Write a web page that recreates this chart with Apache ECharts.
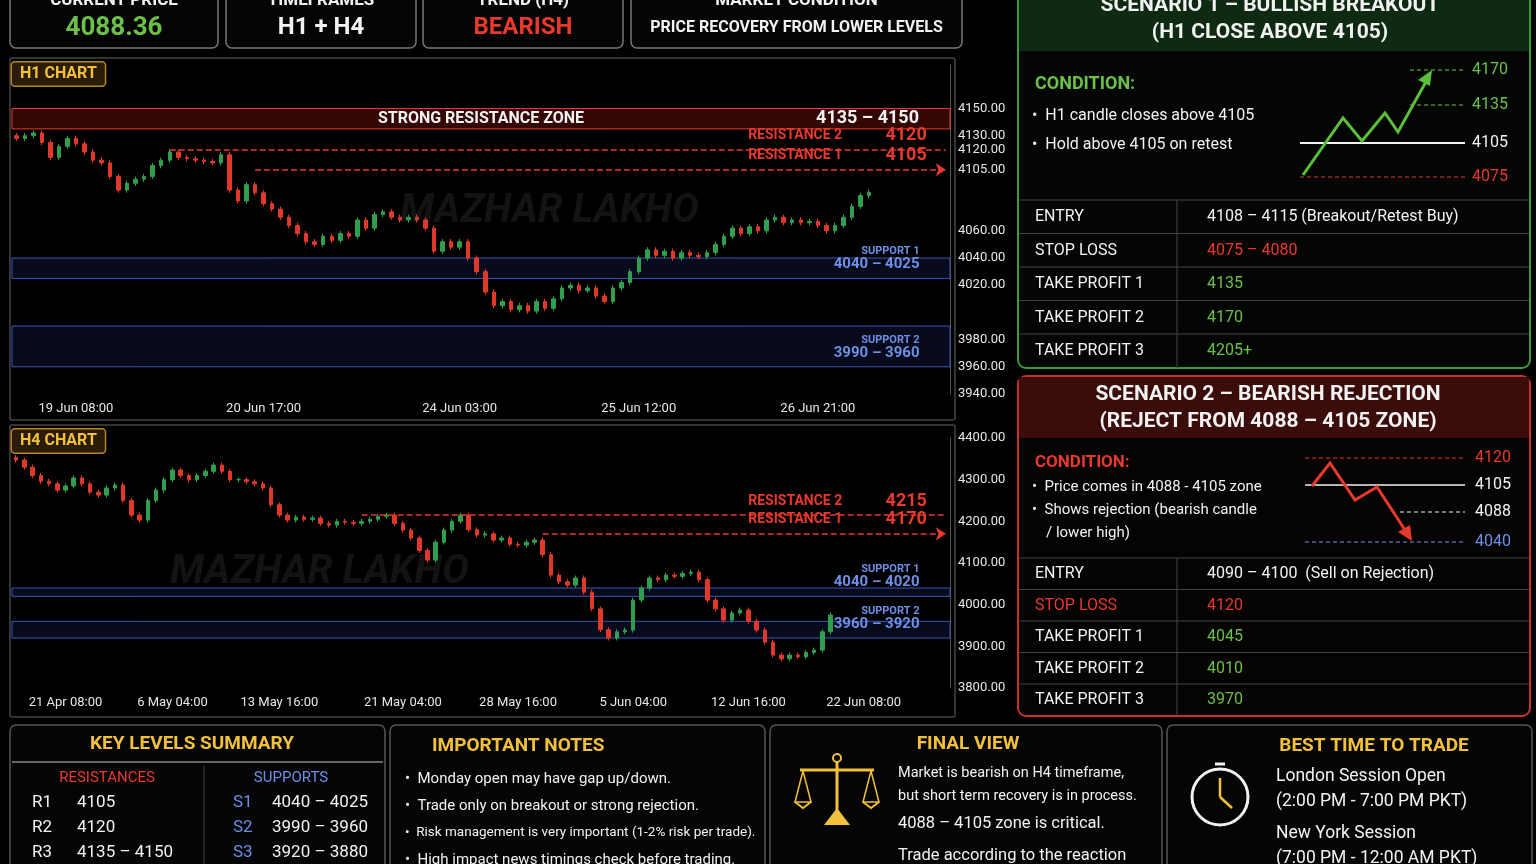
<!DOCTYPE html>
<html><head><meta charset="utf-8">
<script src="https://cdn.jsdelivr.net/npm/echarts@6/dist/echarts.min.js"></script>
<style>html,body{margin:0;background:#000}#c{width:1536px;height:864px}</style>
</head><body><div id="c"></div>
<script>
const h1Closes=[4128,4130,4132,4125,4114,4122,4128,4124,4118,4112,4110,4100,4090,4095,4098,4100,4108,4112,4118,4114,4113,4112,4111,4110,4116,4090,4082,4094,4088,4080,4076,4070,4064,4058,4052,4050,4056,4053,4058,4056,4068,4062,4072,4074,4070,4068,4070,4068,4062,4045,4052,4048,4052,4040,4030,4015,4005,4008,4002,4005,4001,4008,4003,4010,4018,4020,4016,4018,4012,4008,4018,4022,4030,4040,4046,4042,4045,4040,4044,4042,4041,4044,4050,4056,4062,4058,4063,4060,4068,4070,4066,4068,4066,4067,4064,4060,4064,4070,4078,4086,4088.36];
const h4Closes=[4347,4330,4310,4296,4290,4275,4285,4304,4290,4270,4263,4280,4287,4250,4215,4203,4250,4275,4300,4323,4310,4300,4310,4320,4335,4320,4300,4300,4295,4290,4280,4240,4215,4203,4210,4205,4208,4195,4191,4200,4198,4195,4200,4205,4212,4215,4195,4179,4160,4130,4107,4150,4179,4200,4215,4180,4167,4170,4155,4160,4145,4143,4150,4155,4120,4071,4055,4047,4064,4030,3990,3940,3920,3935,3939,4011,4040,4064,4060,4071,4068,4075,4078,4060,4011,3990,3963,3980,3987,3960,3939,3910,3879,3870,3879,3875,3885,3891,3935,3975];
const h1TickLabels={7:'19 Jun 08:00',29:'20 Jun 17:00',52:'24 Jun 03:00',73:'25 Jun 12:00',94:'26 Jun 21:00'};
const h4TickLabels={6:'21 Apr 08:00',19:'6 May 04:00',32:'13 May 16:00',47:'21 May 04:00',61:'28 May 16:00',75:'5 Jun 04:00',89:'12 Jun 16:00',103:'22 Jun 08:00'};
const h1AxisValues=[4150,4130,4120,4105,4060,4040,4020,3980,3960,3940];
const currentPrice=4088.36;
const h1Levels={r1:4105,r2:4120,rz:[4135,4150],s1:[4040,4025],s2:[3990,3960]};
const h4Levels={r1:4170,r2:4215,s1:[4040,4020],s2:[3960,3920]};

const F="'Roboto',sans-serif";
const UP='#2f9e4f',DN='#e0392b';
function ohlc(cl,w){return cl.map((c,i)=>{const o=i?cl[i-1]:c+w;return [o,c,Math.min(o,c)-w,Math.max(o,c)+w];});}
function cats(n,map){return Array.from({length:n},(_,i)=>map[i]||('c'+i));}
const chart=echarts.init(document.getElementById('c'));
const g=[];
function R(x,y,w,h,stroke,fill,r,lw){g.push({type:'rect',shape:{x,y,width:w,height:h,r:r==null?6:r},style:{stroke:stroke||'none',fill:fill||'none',lineWidth:lw||1.5},z:1});}
function T(x,y,s,size,color,align,weight){g.push({type:'text',x,y,style:{text:s,font:(weight||'bold')+' '+size+'px '+F,fill:color,align:align||'left',verticalAlign:'middle'},z:5});}
function L(pts,color,dash,w){g.push({type:'polyline',shape:{points:pts},style:{stroke:color,lineWidth:w||1.5,lineDash:dash||null},z:4});}
const GOLD='#f2c03a',GR='#6cc04a',RD='#e8392c',BL='#6d8fe8',W='#f2f2f2';
[[10,-6,208,54,'CURRENT PRICE','4088.36',GR,26],[226,-6,190,54,'TIMEFRAMES','H1 + H4',W,24],[423,-6,200,54,'TREND (H4)','BEARISH',RD,24],[631,-6,331,54,'MARKET CONDITION','PRICE RECOVERY FROM LOWER LEVELS',W,16]].forEach(b=>{
 R(b[0],b[1],b[2],b[3],'#777','#050505');T(b[0]+b[2]/2,1,b[4],17,W,'center');T(b[0]+b[2]/2,28,b[5],b[7],b[6],'center');});
R(10,58,945,362,'#444','none',2);R(10,425,945,292,'#444','none',2);
T(400,212,'MAZHAR LAKHO',40,'rgba(120,120,120,0.16)','left','italic bold');
T(170,573,'MAZHAR LAKHO',40,'rgba(120,120,120,0.16)','left','italic bold');
R(1018,-8,512,376,'#3a9a3a','#040604',8,2);
g.push({type:'rect',shape:{x:1019,y:-7,width:510,height:58},style:{fill:'#0e2a12'},z:2});
T(1270,6,'SCENARIO 1 – BULLISH BREAKOUT',21,W,'center');T(1270,33,'(H1 CLOSE ABOVE 4105)',21,W,'center');
T(1035,84,'CONDITION:',18,GR);T(1032,116,'•  H1 candle closes above 4105',16,W,'left','normal');T(1032,145,'•  Hold above 4105 on retest',16,W,'left','normal');
L([[1410,70],[1465,70]],GR,[4,3],1);L([[1410,105],[1465,105]],GR,[4,3],1);L([[1300,143],[1465,143]],W,null,2);L([[1300,177],[1465,177]],RD,[4,3],1);
T(1472,70,'4170',16,GR,'left','normal');T(1472,105,'4135',16,GR,'left','normal');T(1472,143,'4105',16,W,'left','normal');T(1472,177,'4075',16,RD,'left','normal');
L([[1303,175],[1343,118],[1362,141],[1385,113],[1398,132],[1428,78]],'#5cbf3c',null,3);
g.push({type:'polygon',shape:{points:[[1432,70],[1418,80],[1430,86]]},style:{fill:'#5cbf3c'},z:4});
const s1rows=[['ENTRY','4108 – 4115 (Breakout/Retest Buy)',W],['STOP LOSS','4075 – 4080',RD],['TAKE PROFIT 1','4135',GR],['TAKE PROFIT 2','4170',GR],['TAKE PROFIT 3','4205+',GR]];
s1rows.forEach((r,i)=>{const y=200+i*33.5;L([[1019,y],[1529,y]],'#444',null,1);T(1035,y+17,r[0],16,W,'left','normal');T(1207,y+17,r[1],16,r[2],'left','normal');});
L([[1177,200],[1177,368]],'#444',null,1);
R(1018,376,512,340,'#c8302a','#060303',8,2);
g.push({type:'rect',shape:{x:1019,y:377,width:510,height:61},style:{fill:'#3a0c0a'},z:2});
T(1268,395,'SCENARIO 2 – BEARISH REJECTION',21,W,'center');T(1268,422,'(REJECT FROM 4088 – 4105 ZONE)',21,W,'center');
T(1035,463,'CONDITION:',17,RD);T(1032,487,'•  Price comes in 4088 - 4105 zone',15,W,'left','normal');T(1032,510,'•  Shows rejection (bearish candle',15,W,'left','normal');T(1046,533,'/ lower high)',15,W,'left','normal');
L([[1305,458],[1465,458]],RD,[4,3],1);L([[1305,485],[1465,485]],W,null,1.5);L([[1400,512],[1465,512]],W,[4,3],1);L([[1305,542],[1465,542]],BL,[4,3],1);
T(1475,458,'4120',16,RD,'left','normal');T(1475,485,'4105',16,W,'left','normal');T(1475,512,'4088',16,W,'left','normal');T(1475,542,'4040',16,BL,'left','normal');
L([[1312,486],[1330,463],[1355,500],[1377,487],[1405,530]],RD,null,3);
g.push({type:'polygon',shape:{points:[[1412,541],[1398,532],[1410,525]]},style:{fill:RD},z:4});
const s2rows=[['ENTRY','4090 – 4100  (Sell on Rejection)',W,W],['STOP LOSS','4120',RD,RD],['TAKE PROFIT 1','4045',W,GR],['TAKE PROFIT 2','4010',W,GR],['TAKE PROFIT 3','3970',W,GR]];
s2rows.forEach((r,i)=>{const y=558+i*31.5;L([[1019,y],[1529,y]],'#444',null,1);T(1035,y+16,r[0],16,r[2],'left','normal');T(1207,y+16,r[1],16,r[3],'left','normal');});
L([[1177,558],[1177,715]],'#444',null,1);
R(10,725,375,150,'#555','#050505');R(390,725,375,150,'#555','#050505');R(770,725,392,150,'#555','#050505');R(1167,725,365,150,'#555','#050505');
T(192,744,'KEY LEVELS SUMMARY',19,GOLD,'center');L([[12,762],[383,762]],'#666',null,2);L([[204,766],[204,864]],'#444',null,1);
T(107,778,'RESISTANCES',15,RD,'center','normal');T(291,778,'SUPPORTS',15,BL,'center','normal');
[['R1','4105','S1','4040 – 4025'],['R2','4120','S2','3990 – 3960'],['R3','4135 – 4150','S3','3920 – 3880']].forEach((r,i)=>{const y=803+i*25;T(32,y,r[0],17,W,'left','normal');T(77,y,r[1],17,W,'left','normal');T(233,y,r[2],17,BL,'left','normal');T(272,y,r[3],17,W,'left','normal');});
T(432,746,'IMPORTANT NOTES',19,GOLD);
['Monday open may have gap up/down.','Trade only on breakout or strong rejection.','Risk management is very important (1-2% risk per trade).','High impact news timings check before trading.'].forEach((s,i)=>T(405,779+i*27,'•  '+s,i==2?13.5:15,W,'left','normal'));
T(968,744,'FINAL VIEW',19,GOLD,'center');
['Market is bearish on H4 timeframe,','but short term recovery is in process.'].forEach((s,i)=>T(898,773+i*23,s,14.5,W,'left','normal'));
T(898,824,'4088 – 4105 zone is critical.',16.5,W,'left','normal');T(898,856,'Trade according to the reaction',16.5,W,'left','normal');
L([[837,762],[837,820]],GOLD,null,3);L([[800,770],[874,770]],GOLD,null,3);
L([[803,771],[795,802],[811,802],[803,771]],GOLD,null,1.5);L([[871,771],[863,802],[879,802],[871,771]],GOLD,null,1.5);
L([[795,802],[803,808],[811,802]],GOLD,null,2);L([[863,802],[871,808],[879,802]],GOLD,null,2);
g.push({type:'polygon',shape:{points:[[824,825],[850,825],[837,808]]},style:{fill:GOLD},z:4});
g.push({type:'circle',shape:{cx:837,cy:758,r:4},style:{stroke:GOLD,fill:'none',lineWidth:2},z:4});
T(1374,746,'BEST TIME TO TRADE',19,GOLD,'center');
g.push({type:'circle',shape:{cx:1220,cy:797,r:28},style:{stroke:W,fill:'none',lineWidth:3},z:4});
L([[1220,797],[1220,778]],GOLD,null,2.5);L([[1220,797],[1232,808]],GOLD,null,2.5);L([[1215,764],[1225,764]],W,null,3);
T(1276,777,'London Session Open',17.5,W,'left','normal');T(1276,802,'(2:00 PM - 7:00 PM PKT)',17.5,W,'left','normal');T(1276,834,'New York Session',17.5,W,'left','normal');T(1276,859,'(7:00 PM - 12:00 AM PKT)',17.5,W,'left','normal');
function tag(x,y,s){g.push({type:'text',x,y,style:{text:s,font:'bold 16px '+F,fill:GOLD,backgroundColor:'#2a1c06',borderColor:'#b8862a',borderWidth:1.5,borderRadius:3,padding:[4,8,3,8],verticalAlign:'middle'},z:6});}
tag(12,74,'H1 CHART');tag(12,441,'H4 CHART');

const tickOpt={show:true,interval:0,color:'#e6e6e6',fontSize:13,fontFamily:F,formatter:v=>v.charAt(0)==='c'?'':v,hideOverlap:false};
const bandLbl=(a,b,name)=>({show:true,position:'insideBottomRight',formatter:'{s|'+name+'}\n{v|'+a+' – '+b+'}',rich:{s:{color:BL,fontSize:11,fontFamily:F,fontWeight:'bold',align:'right'},v:{color:BL,fontSize:15,fontFamily:F,fontWeight:'bold',align:'right'}},padding:[0,26,2,0]});
function seg(v,name,startIdx,n,arrow){return [{coord:[startIdx,v],symbol:'none'},{coord:[n-1,v],symbol:arrow?'arrow':'none',symbolSize:10,lineStyle:{color:RD,width:1.5},label:{show:true,position:'insideEndTop',formatter:'{n|'+name+'}             {v|'+v+'}',rich:{n:{color:RD,fontSize:14,fontFamily:F,fontWeight:'bold'},v:{color:RD,fontSize:18,fontFamily:F,fontWeight:'bold'}},padding:[0,14,0,0]}}];}
const N1=110,N4=114;
const priceTag={yAxis:currentPrice,lineStyle:{opacity:0},symbol:'none',label:{show:true,position:'end',distance:2,formatter:'4088.36',backgroundColor:'#2f9e4f',color:'#fff',padding:[3,4],fontSize:13,fontFamily:F,fontWeight:'bold'}};
const bandStyle={color:'rgba(40,60,150,0.18)',borderColor:'#3b56b8',borderWidth:1};
const opt={backgroundColor:'#000',animation:false,graphic:g,
grid:[{left:12,right:586,top:65,bottom:470},{left:12,right:586,top:438,bottom:176}],
xAxis:[{type:'category',gridIndex:0,data:cats(N1,h1TickLabels),axisLine:{show:false},axisTick:{show:false},axisLabel:tickOpt},
{type:'category',gridIndex:1,data:cats(N4,h4TickLabels),axisLine:{show:false},axisTick:{show:false},axisLabel:tickOpt}],
yAxis:[{type:'value',gridIndex:0,position:'right',min:3940,max:4182,interval:5,splitLine:{show:false},axisLine:{show:true,lineStyle:{color:'#555'}},axisLabel:{color:'#e6e6e6',fontSize:13,fontFamily:F,formatter:v=>h1AxisValues.includes(v)?v.toFixed(2):''}},
{type:'value',gridIndex:1,position:'right',min:3800,max:4400,interval:100,splitLine:{show:false},axisLine:{show:true,lineStyle:{color:'#555'}},axisLabel:{color:'#e6e6e6',fontSize:13,fontFamily:F,formatter:v=>v.toFixed(2)}}],
series:[{type:'candlestick',xAxisIndex:0,yAxisIndex:0,data:ohlc(h1Closes,2),barWidth:4,itemStyle:{color:UP,color0:DN,borderColor:UP,borderColor0:DN},
 markArea:{silent:true,data:[
  [{yAxis:h1Levels.rz[0],itemStyle:{color:'rgba(150,20,15,0.35)',borderColor:RD,borderWidth:1},label:{show:true,position:'inside',formatter:'STRONG RESISTANCE ZONE',color:W,fontSize:16,fontFamily:F,fontWeight:'bold'}},{yAxis:h1Levels.rz[1]}],
  [{yAxis:h1Levels.rz[0],itemStyle:{color:'rgba(0,0,0,0)'},label:{show:true,position:'insideRight',formatter:'4135 – 4150',color:W,fontSize:18,fontFamily:F,fontWeight:'bold',padding:[0,26,0,0]}},{yAxis:h1Levels.rz[1]}],
  [{yAxis:h1Levels.s1[0],itemStyle:bandStyle,label:bandLbl(h1Levels.s1[0],h1Levels.s1[1],'SUPPORT 1')},{yAxis:h1Levels.s1[1]}],
  [{yAxis:h1Levels.s2[0],itemStyle:bandStyle,label:bandLbl(h1Levels.s2[0],h1Levels.s2[1],'SUPPORT 2')},{yAxis:h1Levels.s2[1]}]]},
 markLine:{silent:true,symbol:'none',data:[seg(h1Levels.r2,'RESISTANCE 2',18,N1,false),seg(h1Levels.r1,'RESISTANCE 1',28,N1,true),priceTag]}},
{type:'candlestick',xAxisIndex:1,yAxisIndex:1,data:ohlc(h4Closes,6),barWidth:4,itemStyle:{color:UP,color0:DN,borderColor:UP,borderColor0:DN},
 markArea:{silent:true,data:[
  [{yAxis:h4Levels.s1[0],itemStyle:bandStyle,label:bandLbl(h4Levels.s1[0],h4Levels.s1[1],'SUPPORT 1')},{yAxis:h4Levels.s1[1]}],
  [{yAxis:h4Levels.s2[0],itemStyle:bandStyle,label:bandLbl(h4Levels.s2[0],h4Levels.s2[1],'SUPPORT 2')},{yAxis:h4Levels.s2[1]}]]},
 markLine:{silent:true,symbol:'none',data:[seg(h4Levels.r2,'RESISTANCE 2',42,N4,false),seg(h4Levels.r1,'RESISTANCE 1',64,N4,true),priceTag]}}]};
chart.setOption(opt);
</script></body></html>
